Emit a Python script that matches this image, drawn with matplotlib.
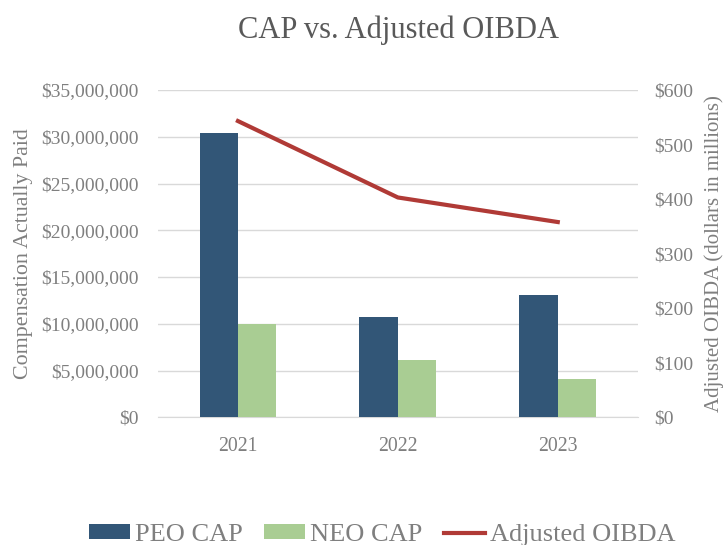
import numpy as np
import matplotlib.pyplot as plt
from matplotlib.ticker import FuncFormatter

plt.rcParams['font.family'] = ['Liberation Serif', 'DejaVu Serif']

years = ["2021", "2022", "2023"]
peo_cap = [30450000, 10780000, 13100000]
neo_cap = [10030000, 6180000, 4140000]
oibda = [543, 403, 358]

grey = "#7f7f7f"
peo_color = "#325677"
neo_color = "#a9cd93"
line_color = "#b03a36"

fig = plt.figure(figsize=(7.28, 5.45), dpi=100)
ax = fig.add_axes([0.217, 0.234, 0.659, 0.601])
ax2 = ax.twinx()

x = np.arange(len(years))
w = 0.24
b1 = ax.bar(x - w / 2, peo_cap, w, color=peo_color, label="PEO CAP", zorder=3)
b2 = ax.bar(x + w / 2, neo_cap, w, color=neo_color, label="NEO CAP", zorder=3)
l1, = ax2.plot(x, oibda, color=line_color, lw=3, label="Adjusted OIBDA")

ax.set_xlim(-0.5, 2.5)
ax.set_ylim(0, 35000000)
ax.set_yticks(np.arange(0, 35000001, 5000000))
ax.yaxis.set_major_formatter(FuncFormatter(lambda v, p: "${:,.0f}".format(v)))
ax2.set_ylim(0, 600)
ax2.set_yticks(np.arange(0, 601, 100))
ax2.yaxis.set_major_formatter(FuncFormatter(lambda v, p: "${:,.0f}".format(v)))

ax.set_xticks(x)
ax.set_xticklabels(years)
ax.grid(axis="y", color="#d9d9d9", lw=1, zorder=0)
for a in (ax, ax2):
    for s in a.spines.values():
        s.set_visible(False)
    a.tick_params(length=0, colors=grey, labelsize=14)
ax.spines["bottom"].set_visible(True)
ax.spines["bottom"].set_color("#d9d9d9")
ax.tick_params(axis="x", labelsize=14.2, pad=14)
ax.tick_params(axis="y", pad=14)
ax2.tick_params(axis="y", pad=12)

ax.set_ylabel("Compensation Actually Paid", color=grey, fontsize=15.8, labelpad=6)
ax2.set_ylabel("Adjusted OIBDA (dollars in millions)", color=grey, fontsize=15, labelpad=8)
fig.suptitle("CAP vs. Adjusted OIBDA", x=0.547, y=0.972, color="#595959", fontsize=22)

fig.legend([b1, b2, l1], ["PEO CAP", "NEO CAP", "Adjusted OIBDA"], loc="center",
           bbox_to_anchor=(0.525, 0.018), ncol=3, frameon=False, fontsize=19,
           handlelength=1.55, handleheight=0.5, handletextpad=0.19,
           columnspacing=0.83, labelcolor=grey, borderpad=0)

fig.savefig("out.png", dpi=100)
